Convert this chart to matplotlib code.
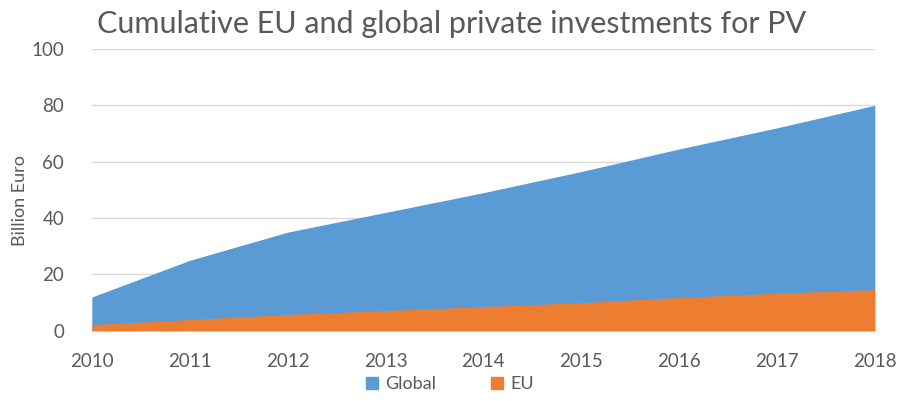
import matplotlib.pyplot as plt
import matplotlib.patches as mpatches
import numpy as np

plt.rcParams['font.family'] = ['Lato', 'DejaVu Sans']

years = [2010, 2011, 2012, 2013, 2014, 2015, 2016, 2017, 2018]
global_inv = [12, 25, 35, 42, 49, 56.5, 64.5, 72, 80]
eu_inv = [2.2, 4, 5.8, 7.2, 8.6, 10, 11.8, 13.3, 14.6]

blue = '#5B9BD5'
orange = '#ED7D31'
grey = '#595959'

fig = plt.figure(figsize=(9, 4.01), dpi=100)
ax = fig.add_axes([0.102, 0.175, 0.870, 0.703])

# global area first, EU drawn over it from zero
ax.fill_between(years, 0, global_inv, color=blue, linewidth=0, zorder=2)
ax.fill_between(years, 0, eu_inv, color=orange, linewidth=0, zorder=3)

ax.set_xlim(years[0], years[-1])
ax.set_ylim(0, 100)
ax.set_yticks(np.arange(0, 101, 20))
ax.set_xticks(years)
ax.grid(axis='y', color='#D9D9D9', linewidth=1, zorder=1)
ax.set_axisbelow(True)
for s in ax.spines.values():
    s.set_visible(False)
ax.tick_params(length=0, labelsize=13.5, colors=grey)
ax.tick_params(axis='x', pad=16)
ax.tick_params(axis='y', pad=20)

fig.text(0.022, 0.5, 'Billion Euro', rotation=90, ha='center', va='center',
         fontsize=13, color=grey)
fig.text(0.502, 0.94, 'Cumulative EU and global private investments for PV',
         ha='center', va='center', fontsize=22, color=grey)

handles = [mpatches.Patch(color=blue, label='Global'),
           mpatches.Patch(color=orange, label='EU')]
fig.legend(handles=handles, loc='center', bbox_to_anchor=(0.5, 0.042), ncol=2,
           frameon=False, fontsize=13, handlelength=0.7, handleheight=0.7,
           handletextpad=0.4, columnspacing=3.0, labelcolor=grey)

fig.savefig('out.png', dpi=100)
